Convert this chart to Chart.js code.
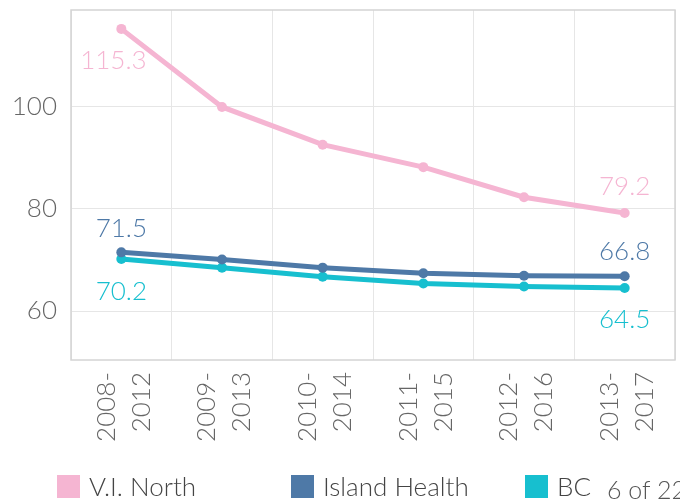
<!DOCTYPE html>
<html>
<head>
<meta charset="utf-8">
<script src="https://cdn.jsdelivr.net/npm/chart.js@4"></script>
<style>
  html, body { margin: 0; padding: 0; background: #fff; }
  #wrap { position: relative; width: 680px; height: 499px; overflow: hidden; }
  #legend { position: absolute; left: 0; top: 468px; width: 680px; height: 31px; font-family: Lato, sans-serif; font-weight: 300; font-size: 26px; color: #444; }
  .item { position: absolute; top: 2px; white-space: nowrap; }
  .sw { display: inline-block; width: 23px; height: 23px; vertical-align: -2px; margin-right: 9px; }
  #page { position: absolute; left: 607px; top: 6px; font-size: 25px; color: #555; white-space: nowrap; }
</style>
</head>
<body>
<div id="wrap">
  <canvas id="lineChart" width="680" height="499"></canvas>
  <div id="legend"></div>
</div>
<script>
var categories = [['2008-', '2012'], ['2009-', '2013'], ['2010-', '2014'], ['2011-', '2015'], ['2012-', '2016'], ['2013-', '2017']];
var viNorth = [115.3, 100.0, 92.6, 88.2, 82.3, 79.2];
var islandHealth = [71.5, 70.1, 68.5, 67.4, 66.9, 66.8];
var bc = [70.2, 68.5, 66.7, 65.4, 64.8, 64.5];
var yTicks = [60, 80, 100];
var seriesNames = ['V.I. North', 'Island Health', 'BC'];
var seriesColors = ['#f5b5d2', '#4e79a7', '#17bfcf'];

var FONT = 'Lato, sans-serif';

// labels on first and last point
var endLabels = {
    id: 'endLabels',
    afterDatasetsDraw: function (chart) {
        var ctx = chart.ctx;
        ctx.save();
        ctx.font = '300 26px ' + FONT;
        ctx.textAlign = 'center';
        ctx.textBaseline = 'middle';
        chart.data.datasets.forEach(function (ds, i) {
            var meta = chart.getDatasetMeta(i);
            var last = ds.data.length - 1;
            [[0, ds.labelFirst], [last, ds.labelLast]].forEach(function (p) {
                var pt = meta.data[p[0]];
                ctx.fillStyle = ds.labelColor;
                ctx.fillText(ds.data[p[0]].toFixed(1), pt.x + p[1][0], pt.y + p[1][1]);
            });
        });
        ctx.restore();
    }
};

var frame = {
    id: 'frame',
    beforeDatasetsDraw: function (chart) {
        var a = chart.chartArea, ctx = chart.ctx;
        ctx.save();
        ctx.strokeStyle = '#d4d4d4';
        ctx.lineWidth = 1.5;
        ctx.strokeRect(a.left, a.top, a.right - a.left, a.bottom - a.top);
        ctx.restore();
    }
};

var ctxLine = document.getElementById('lineChart').getContext('2d');
var lineChart = new Chart(ctxLine, {
    type: 'line',
    data: {
        labels: categories,
        datasets: [{
            label: seriesNames[0],
            data: viNorth,
            borderColor: seriesColors[0],
            backgroundColor: seriesColors[0],
            labelColor: '#f5b5d2',
            labelFirst: [-8, 32],
            labelLast: [0, -26]
        }, {
            label: seriesNames[1],
            data: islandHealth,
            borderColor: seriesColors[1],
            backgroundColor: seriesColors[1],
            labelColor: '#4e79a7',
            labelFirst: [0, -24],
            labelLast: [0, -25]
        }, {
            label: seriesNames[2],
            data: bc,
            borderColor: seriesColors[2],
            backgroundColor: seriesColors[2],
            labelColor: '#17bfcf',
            labelFirst: [0, 33],
            labelLast: [0, 32]
        }]
    },
    options: {
        responsive: false,
        animation: false,
        layout: { padding: { top: 10, right: 2, bottom: 49, left: 0 } },
        elements: {
            line: { borderWidth: 5, tension: 0 },
            point: { radius: 5, borderWidth: 0 }
        },
        scales: {
            x: {
                offset: true,
                grid: { offset: true, color: '#e6e6e6', drawTicks: false },
                border: { display: false },
                ticks: {
                    minRotation: 90, maxRotation: 90, padding: 12, labelOffset: -15,
                    color: '#666', font: { family: FONT, size: 26, weight: 300, lineHeight: 1.35 }
                },
                afterFit: function (s) {
                    s.height = 90;
                    s.paddingLeft = 0;
                    s.paddingRight = 0;
                }
            },
            y: {
                min: 50.4,
                max: 119,
                grid: { color: '#e6e6e6', drawTicks: false },
                border: { display: false },
                afterBuildTicks: function (s) { s.ticks = yTicks.map(function (v) { return { value: v }; }); },
                ticks: { padding: 14, color: '#666', font: { family: FONT, size: 26, weight: 300 } },
                afterFit: function (s) {
                    s.width = 71;
                    s.paddingTop = 0;
                    s.paddingBottom = 0;
                }
            }
        },
        plugins: {
            legend: { display: false },
            tooltip: { enabled: false }
        }
    },
    plugins: [frame, endLabels]
});

var legendEl = document.getElementById('legend');
var lefts = [57, 291, 525];
seriesNames.forEach(function (n, i) {
    var d = document.createElement('div');
    d.className = 'item';
    d.style.left = lefts[i] + 'px';
    d.innerHTML = '<span class="sw" style="background:' + seriesColors[i] + '"></span>' + n;
    legendEl.appendChild(d);
});
var pg = document.createElement('div');
pg.id = 'page';
pg.textContent = '6 of 22';
legendEl.appendChild(pg);
</script>
</body>
</html>
